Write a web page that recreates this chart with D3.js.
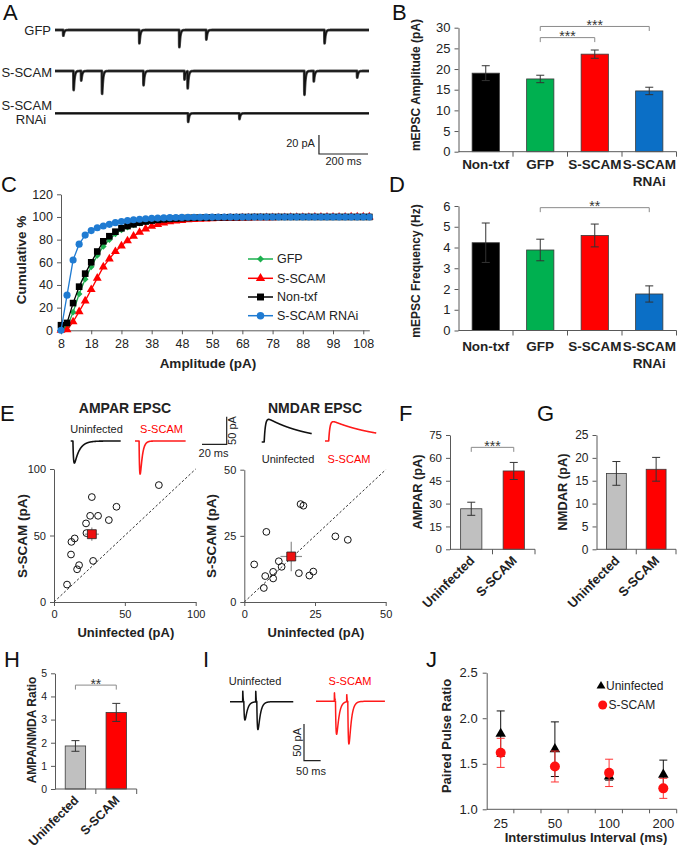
<!DOCTYPE html>
<html><head><meta charset="utf-8">
<script src="https://cdnjs.cloudflare.com/ajax/libs/d3/7.8.5/d3.min.js"></script>
<style>body{margin:0;background:#fff;}svg{display:block;}</style>
</head><body><svg id="fig" width="678" height="852"></svg>
<script>
// ================= DATA =================
// Panel A: mEPSC events [time ms, amplitude pA]
const traceNamesA = ["GFP", "S-SCAM", "S-SCAM RNAi"];
const eventsGFP = [[33,6],[343,14],[506,18],[616,10],[1098,14],[1282,18]];
const eventsSSCAM = [[75,20],[106,10],[191,24],[360,15],[527,9],[540,18],[1016,25],[1054,11],[1231,7]];
const eventsRNAi = [[542,9],[751,6]];

// Panels B, D
const groups = ["Non-txf", "GFP", "S-SCAM", "S-SCAM RNAi"];
const groupColors = ["#000000", "#00b050", "#ff0000", "#0b6fc6"];
const ampMean = [19.0, 17.6, 23.6, 14.7];
const ampSem = [1.8, 0.9, 1.0, 0.9];
const ampTicks = [0, 5, 10, 15, 20, 25, 30];
const freqMean = [4.23, 3.88, 4.58, 1.76];
const freqSem = [0.95, 0.52, 0.55, 0.39];
const freqTicks = [0, 1, 2, 3, 4, 5, 6];

// Panel C: cumulative distributions
const cumBins = [8,10,12,14,16,18,20,22,24,26,28,30,32,34,36,38,40,42,44,46,48,50,52,54,56,58,60,62,64,66,68,70,72,74,76,78,80,82,84,86,88,90,92,94,96,98,100,102,104,106,108,110];
const cumGFP = [0,3,16,32,45,56,66,74,80,85,88.5,91,93,94.5,95.5,96.5,97.2,97.8,98.2,98.6,98.9,99.1,99.3,99.4,99.5,99.6,99.7,99.7,99.8,99.8,99.9,99.9,100,100,100,100,100,100,100,100,100,100,100,100,100,100,100,100,100,100,100,100];
const cumSSCAM = [0,0.5,7.5,16.5,26,36,46,56,63,69.5,74.5,79,83,86.5,89.5,91.8,93.5,94.8,95.8,96.5,97,97.5,97.8,98.1,98.3,98.5,98.7,98.8,98.9,99,99.1,99.2,99.3,99.3,99.4,99.4,99.5,99.5,99.6,99.6,99.7,99.7,99.8,99.8,99.8,99.9,99.9,99.9,100,100,100,100];
const cumNonTxf = [4.5,6.5,24,38.5,50,60,69.5,78.5,83,87,90,92,93.5,95,96,96.8,97.4,97.9,98.3,98.6,98.9,99.1,99.3,99.4,99.5,99.6,99.7,99.7,99.8,99.8,99.9,99.9,100,100,100,100,100,100,100,100,100,100,100,100,100,100,100,100,100,100,100,100];
const cumRNAi = [0,31,62,76,84,88,90.5,92,93.5,95,96,96.8,97.5,98,98.4,98.8,99,99.2,99.4,99.5,99.6,99.7,99.8,99.8,99.9,99.9,100,100,100,100,100,100,100,100,100,100,100,100,100,100,100,100,100,100,100,100,100,100,100,100,100,100];
const cumTicksX = [8, 18, 28, 38, 48, 58, 68, 78, 88, 98, 108];
const cumTicksY = [0, 20, 40, 60, 80, 100, 120];
const cumNames = ["GFP", "S-SCAM", "Non-txf", "S-SCAM RNAi"];

// Panel E: scatter (uninfected vs S-SCAM, pA)
const ampaUninf = [9.2,12.0,12.3,14.6,16.3,17.7,22.9,22.6,25.5,26.7,31.1,27.6,38.7,44.1,74.0];
const ampaSSCAM = [13.1,35.7,45.2,47.8,24.6,27.7,51.8,59.1,64.8,78.9,64.8,30.9,61.6,71.6,87.9];
const ampaMeanXY = [26.7, 51.0], ampaSemXY = [5.0, 5.0];
const nmdaUninf = [3.5,6.9,7.4,7.8,10.2,10.2,12.2,13.2,19.3,23.0,24.4,19.9,20.9,32.2,36.6];
const nmdaSSCAM = [14.2,5.3,9.8,26.5,11.4,8.9,15.4,13.3,10.9,10.0,11.5,37.0,36.4,24.8,23.5];
const nmdaMeanXY = [16.6, 17.2], nmdaSemXY = [3.8, 5.6];
const ampaScatterTicks = [0, 50, 100];
const nmdaScatterTicks = [0, 25, 50];

// Panels F, G, H
const conds = ["Uninfected", "S-SCAM"];
const condColors = ["#c0c0c0", "#ff0000"];
const ampaBarMean = [26.6, 51.4], ampaBarSem = [4.3, 5.6];
const ampaBarTicks = [0, 15, 30, 45, 60, 75];
const nmdaBarMean = [16.6, 17.5], nmdaBarSem = [2.6, 2.6];
const nmdaBarTicks = [0, 5, 10, 15, 20, 25];
const ratioMean = [1.86, 3.31], ratioSem = [0.23, 0.39];
const ratioTicks = [0, 1, 2, 3, 4, 5];

// Panel J
const isi = ["25", "50", "100", "200"];
const pprUninf = [1.83, 1.66, 1.36, 1.38], pprUninfErr = [0.25, 0.30, 0.04, 0.16];
const pprSSCAM = [1.62, 1.47, 1.40, 1.23], pprSSCAMErr = [0.16, 0.17, 0.15, 0.11];
const pprTicks = [1.0, 1.5, 2.0, 2.5];

// ================= DRAWING =================
const FONT = '"Liberation Sans", Arial, Helvetica, sans-serif';
const AXC = "#595959", TXC = "#222";
const svg = d3.select("#fig");
svg.append("rect").attr("width", 678).attr("height", 852).attr("fill", "#fff");

function txt(x, y, s, o = {}) {
  const t = svg.append("text").text(s)
    .attr("font-family", FONT).attr("font-size", o.size || 13)
    .attr("fill", o.fill || TXC).attr("text-anchor", o.anchor || "start");
  if (o.bold) t.attr("font-weight", "bold");
  if (o.rot !== undefined) t.attr("transform", `translate(${x},${y}) rotate(${o.rot})`);
  else t.attr("x", x).attr("y", y);
  if (o.dy) t.attr("dy", o.dy);
  return t;
}
function styleAxis(sel, size) {
  sel.attr("font-family", FONT).attr("font-size", size);
  sel.select(".domain").attr("stroke", AXC);
  sel.selectAll(".tick line").attr("stroke", AXC);
  sel.selectAll(".tick text").attr("fill", TXC);
}
function line(x1, y1, x2, y2, c = AXC, w = 1) {
  return svg.append("line").attr("x1", x1).attr("y1", y1).attr("x2", x2).attr("y2", y2)
    .attr("stroke", c).attr("stroke-width", w);
}

// panel letters
[["A",3,20],["B",392,20],["C",1,192],["D",389,192],["E",0,421],["F",399,421],["G",537,421],["H",4,667],["I",203,667],["J",426,667]]
  .forEach(([s, x, y]) => txt(x, y, s, { size: 22, fill: "#111" }));

// ---------- trace helpers ----------
function kernelNorm(tr, td) { const tp = tr * td / (td - tr) * Math.log(td / tr); return Math.exp(-tp / td) - Math.exp(-tp / tr); }
function buildTrace(dur, dt, events, tr, td) {
  const n = kernelNorm(tr, td), pts = [];
  for (let t = 0; t <= dur + 1e-9; t += dt) {
    let v = 0;
    for (const [t0, a] of events) { const s = t - t0; if (s > 0) v += a * (Math.exp(-s / td) - Math.exp(-s / tr)) / n; }
    pts.push([t, v]);
  }
  return pts;
}
function sumTraces(a, b) { return a.map((p, i) => [p[0], p[1] + b[i][1]]); }
function drawTrace(pts, xs, ys, color, w) {
  svg.append("path").datum(pts).attr("fill", "none").attr("stroke", color).attr("stroke-width", w)
    .attr("stroke-linejoin", "round")
    .attr("d", d3.line().x(d => xs(d[0])).y(d => ys(d[1])));
}

// ---------- Panel A ----------
(function () {
  const xA = d3.scaleLinear().domain([0, 1280]).range([55, 369]);
  const bases = [30, 71, 113.3];
  const evs = [eventsGFP, eventsSSCAM, eventsRNAi];
  evs.forEach((ev, i) => {
    const yA = d3.scaleLinear().domain([0, -1]).range([bases[i], bases[i] + 0.95]);
    const pts = buildTrace(1280, 0.5, ev.map(e => [e[0], -e[1]]), 0.4, 3.5);
    drawTrace(pts, xA, yA, "#555", 2.8);
    drawTrace(pts, xA, yA, "#111", 1.4);
  });
  txt(51, 35, traceNamesA[0], { anchor: "end", size: 13 });
  txt(52, 76.5, traceNamesA[1], { anchor: "end", size: 13 });
  const rn = traceNamesA[2].split(" ");
  txt(52, 110, rn[0], { anchor: "end", size: 13 });
  txt(31, 123.5, rn[1], { anchor: "middle", size: 13 });
  // scale bar 20 pA / 200 ms
  const sx0 = xA(1076), sx1 = xA(1276), sy1 = 154, sy0 = 154 - 20 * 0.95;
  svg.append("path").attr("d", `M${sx0},${sy0}V${sy1}H${sx1}`).attr("fill", "none").attr("stroke", "#222").attr("stroke-width", 1.2);
  txt(sx0 - 4, 147, "20 pA", { anchor: "end", size: 11 });
  txt((sx0 + sx1) / 2, 165, "200 ms", { anchor: "middle", size: 11 });
})();

// ---------- bar panel helper ----------
function barPanel(p) {
  const x = d3.scaleBand().domain(p.cats).range([p.x0, p.x1]).paddingInner(0.5).paddingOuter(0.25);
  const y = d3.scaleLinear().domain([p.ticks[0], p.ticks[p.ticks.length - 1]]).range([p.yBot, p.yTop]);
  const g = svg.append("g");
  g.selectAll("rect").data(p.cats).join("rect")
    .attr("x", d => x(d)).attr("y", (d, i) => y(p.vals[i]))
    .attr("width", x.bandwidth()).attr("height", (d, i) => y(0) - y(p.vals[i]))
    .attr("fill", (d, i) => p.colors[i]).attr("stroke", "#3a3a3a").attr("stroke-width", 0.8);
  p.cats.forEach((c, i) => {
    const cx = x(c) + x.bandwidth() / 2, t = y(p.vals[i] + p.errs[i]), b = y(p.vals[i] - p.errs[i]);
    const ec = "#333";
    line(cx, t, cx, b, ec, 1); line(cx - 4, t, cx + 4, t, ec, 1); line(cx - 4, b, cx + 4, b, ec, 1);
  });
  const ya = svg.append("g").attr("transform", `translate(${p.x0},0)`)
    .call(d3.axisLeft(y).tickValues(p.ticks).tickSize(4).tickSizeOuter(0).tickPadding(4).tickFormat(p.fmt || d3.format("d")));
  styleAxis(ya, p.tickSize || 13);
  line(p.x0, y(0), p.x1, y(0));
  p.cats.forEach(c => { const bx = x(c) + x.bandwidth() / 2 + x.step() / 2; line(bx, y(0), bx, y(0) + 5); });
  const cx = c => x(c) + x.bandwidth() / 2;
  if (p.rotLabels) {
    p.cats.forEach(c => txt(cx(c) + 4, y(0) + 12, c, { rot: -45, anchor: "end", bold: true, size: p.labelSize || 13 }));
  } else {
    p.cats.forEach(c => c.split(" ").forEach((s, k) => txt(cx(c), p.labelY + k * p.labelLH, s, { anchor: "middle", bold: true, size: p.labelSize || 13.5 })));
  }
  txt(p.ylx, p.yly, p.ylabel, { rot: -90, anchor: "middle", bold: true, size: p.ylabelSize || 12.5, dy: "0.35em" });
  (p.brackets || []).forEach(br => {
    const x1 = cx(p.cats[br[0]]), x2 = cx(p.cats[br[1]]), yy = y(br[2]);
    svg.append("path").attr("d", `M${x1},${yy + 4.5}V${yy}H${x2}V${yy + 4.5}`).attr("fill", "none").attr("stroke", "#8a8a8a").attr("stroke-width", 1);
    txt((x1 + x2) / 2, yy + 3.7, br[3], { anchor: "middle", size: 14, fill: "#333" });
  });
  return { x, y };
}

// Panel B
barPanel({ cats: groups, vals: ampMean, errs: ampSem, colors: groupColors, ticks: ampTicks,
  x0: 458.5, x1: 676.5, yTop: 27.7, yBot: 151.7, labelY: 169, labelLH: 17,
  ylabel: "mEPSC Amplitude (pA)", ylx: 416, yly: 85, ylabelSize: 12,
  brackets: [[1, 2, 27.6, "***"], [1, 3, 30.3, "***"]] });
// Panel D
barPanel({ cats: groups, vals: freqMean, errs: freqSem, colors: groupColors, ticks: freqTicks,
  x0: 458.5, x1: 676.5, yTop: 206, yBot: 330.5, labelY: 351, labelLH: 16.5,
  ylabel: "mEPSC Frequency (Hz)", ylx: 416, yly: 271, ylabelSize: 12,
  brackets: [[1, 3, 5.92, "**"]] });
// Panel F
barPanel({ cats: conds, vals: ampaBarMean, errs: ampaBarSem, colors: condColors, ticks: ampaBarTicks,
  x0: 450, x1: 535, yTop: 435, yBot: 549.3, rotLabels: true, tickSize: 11.5,
  ylabel: "AMPAR (pA)", ylx: 418, yly: 492, ylabelSize: 12.8,
  brackets: [[0, 1, 66.9, "***"]] });
// Panel G
barPanel({ cats: conds, vals: nmdaBarMean, errs: nmdaBarSem, colors: condColors, ticks: nmdaBarTicks,
  x0: 596.5, x1: 676, yTop: 435, yBot: 549.3, rotLabels: true, tickSize: 12,
  ylabel: "NMDAR (pA)", ylx: 563, yly: 492, ylabelSize: 12.8 });
// Panel H
barPanel({ cats: conds, vals: ratioMean, errs: ratioSem, colors: condColors, ticks: ratioTicks,
  x0: 55, x1: 136.7, yTop: 673.3, yBot: 789, rotLabels: true, tickSize: 10.5, labelSize: 12.5,
  ylabel: "AMPA/NMDA Ratio", ylx: 31.5, yly: 730, ylabelSize: 12,
  brackets: [[0, 1, 4.49, "**"]] });

// ---------- Panel C ----------
(function () {
  const xC = d3.scaleLinear().domain([8, 110]).range([61, 369.3]);
  const yC = d3.scaleLinear().domain([0, 120]).range([330.3, 194.3]);
  const gx = svg.append("g").attr("transform", `translate(0,${yC(0)})`)
    .call(d3.axisBottom(xC).tickValues(cumTicksX).tickSize(4).tickSizeOuter(0).tickPadding(5));
  styleAxis(gx, 12.5);
  const gy = svg.append("g").attr("transform", `translate(${xC(8)},0)`)
    .call(d3.axisLeft(yC).tickValues(cumTicksY).tickSize(4).tickSizeOuter(0).tickPadding(4));
  styleAxis(gy, 12.5);
  const series = [cumGFP, cumSSCAM, cumNonTxf, cumRNAi];
  const colors = ["#1db04f", "#ff0000", "#000000", "#1f7bd2"];
  const syms = [
    { type: d3.symbolSquare, size: 22, rot: 45 },
    { type: d3.symbolTriangle, size: 34, rot: 0 },
    { type: d3.symbolSquare, size: 44, rot: 0 },
    { type: d3.symbolCircle, size: 40, rot: 0 }];
  series.forEach((vals, si) => {
    svg.append("path").datum(vals).attr("fill", "none").attr("stroke", colors[si]).attr("stroke-width", 1.3)
      .attr("d", d3.line().x((d, i) => xC(cumBins[i])).y(d => yC(d)));
    svg.append("g").selectAll("path").data(vals).join("path")
      .attr("d", d3.symbol().type(syms[si].type).size(syms[si].size))
      .attr("transform", (d, i) => `translate(${xC(cumBins[i])},${yC(d)}) rotate(${syms[si].rot})`)
      .attr("fill", colors[si]);
  });
  const ly = [259, 278.3, 297, 315.7];
  cumNames.forEach((n, si) => {
    line(248, ly[si], 273, ly[si], colors[si], 1.5);
    svg.append("path").attr("d", d3.symbol().type(syms[si].type).size(syms[si].size * 1.1)())
      .attr("transform", `translate(260.5,${ly[si]}) rotate(${syms[si].rot})`).attr("fill", colors[si]);
    txt(277, ly[si], n, { size: 12.5, dy: "0.35em" });
  });
  txt(21.5, 260, "Cumulative %", { rot: -90, anchor: "middle", bold: true, size: 13.5, dy: "0.35em" });
  txt(208, 368, "Amplitude (pA)", { anchor: "middle", bold: true, size: 13.5 });
})();

// ---------- Panel E ----------
function scatterPanel(p) {
  const x = d3.scaleLinear().domain([0, p.max]).range([p.x0, p.x1]);
  const y = d3.scaleLinear().domain([0, p.max]).range([p.y0, p.y1]);
  const gx = svg.append("g").attr("transform", `translate(0,${p.y0})`)
    .call(d3.axisBottom(x).tickValues(p.ticks).tickSize(4).tickSizeOuter(0).tickPadding(4));
  styleAxis(gx, 11);
  const gy = svg.append("g").attr("transform", `translate(${p.x0},0)`)
    .call(d3.axisLeft(y).tickValues(p.ticks).tickSize(4).tickSizeOuter(0).tickPadding(4));
  styleAxis(gy, 11);
  line(x(0), y(0), x(p.max), y(p.max), "#333", 1).attr("stroke-dasharray", "2.5,2");
  svg.append("g").selectAll("circle").data(p.xs).join("circle")
    .attr("cx", d => x(d)).attr("cy", (d, i) => y(p.ys[i])).attr("r", 3.4)
    .attr("fill", "none").attr("stroke", "#111").attr("stroke-width", 1);
  const mx = x(p.mean[0]), my = y(p.mean[1]);
  line(x(p.mean[0] - p.sem[0]), my, x(p.mean[0] + p.sem[0]), my, "#8c8c8c", 1.2);
  line(mx, y(p.mean[1] - p.sem[1]), mx, y(p.mean[1] + p.sem[1]), "#8c8c8c", 1.2);
  svg.append("path").attr("d", d3.symbol().type(d3.symbolSquare).size(80)())
    .attr("transform", `translate(${mx},${my})`).attr("fill", "#ee1111").attr("stroke", "#222").attr("stroke-width", 0.8);
  txt(p.ylx, 536, "S-SCAM (pA)", { rot: -90, anchor: "middle", bold: true, size: 13.5, dy: "0.35em" });
  txt((p.x0 + p.x1) / 2 + 1, 637, "Uninfected (pA)", { anchor: "middle", bold: true, size: 13 });
}
scatterPanel({ xs: ampaUninf, ys: ampaSSCAM, mean: ampaMeanXY, sem: ampaSemXY, max: 100, ticks: ampaScatterTicks,
  x0: 54, x1: 195.7, y0: 602, y1: 469, ylx: 22.5 });
scatterPanel({ xs: nmdaUninf, ys: nmdaSSCAM, mean: nmdaMeanXY, sem: nmdaSemXY, max: 50, ticks: nmdaScatterTicks,
  x0: 244.3, x1: 385.7, y0: 602, y1: 469.7, ylx: 211 });

// E titles & example traces
txt(125, 413, "AMPAR EPSC", { anchor: "middle", bold: true, size: 14 });
txt(315, 413, "NMDAR EPSC", { anchor: "middle", bold: true, size: 14 });
(function () {
  const pxMs = 1.235, pxPa = 0.552;
  const ex = [
    { x0: 70.7, base: 441, dur: 40.5, ev: [[1.8, -40]], tr: 0.5, td: 4.0, c: "#111" },
    { x0: 135, base: 441, dur: 41, ev: [[3.3, -60]], tr: 0.5, td: 1.6, c: "#ff1a1a" },
    { x0: 261.7, base: 442, dur: 40.5, ev: [[2.0, 41]], tr: 1.0, td: 34, c: "#111" },
    { x0: 325, base: 441, dur: 41.5, ev: [[3.0, 35]], tr: 1.0, td: 38, c: "#ff1a1a" }];
  ex.forEach(e => {
    const xs = d3.scaleLinear().domain([0, 1]).range([e.x0, e.x0 + pxMs]);
    const ys = d3.scaleLinear().domain([0, 1]).range([e.base, e.base - pxPa]);
    drawTrace(buildTrace(e.dur, 0.1, e.ev, e.tr, e.td), xs, ys, e.c, 1.6);
  });
  txt(96.5, 433, "Uninfected", { anchor: "middle", size: 11 });
  txt(161.5, 433, "S-SCAM", { anchor: "middle", size: 11, fill: "#ff0000" });
  txt(288, 463, "Uninfected", { anchor: "middle", size: 11 });
  txt(349, 463, "S-SCAM", { anchor: "middle", size: 11, fill: "#ff0000" });
  const vx = 226.7, by = 444.3;
  svg.append("path").attr("d", `M${vx},${by - 50 * pxPa}V${by}H${vx - 20 * pxMs}`).attr("fill", "none").attr("stroke", "#222").attr("stroke-width", 1.2);
  txt(213.5, 456.5, "20 ms", { anchor: "middle", size: 11 });
  txt(236, by - 25 * pxPa, "50 pA", { rot: -90, anchor: "middle", size: 11 });
})();

// ---------- Panel I ----------
(function () {
  const pxMs = 0.333, pxPa = 0.733;
  const ex = [
    { x0: 230, base: 701.7, dur: 190, stim: [[38, 15], [77, 15]], ev: [[41.5, -25], [80.5, -38]], c: "#111" },
    { x0: 316, base: 701.3, dur: 207, stim: [[55, 12], [92, 10]], ev: [[58.5, -45], [95.5, -58]], c: "#ff1a1a" }];
  ex.forEach(e => {
    const xs = d3.scaleLinear().domain([0, 1]).range([e.x0, e.x0 + pxMs]);
    const ys = d3.scaleLinear().domain([0, 1]).range([e.base, e.base - pxPa]);
    const a = buildTrace(e.dur, 0.25, e.ev, 2.0, 6.5);
    const s = buildTrace(e.dur, 0.25, e.stim, 0.2, 0.8);
    drawTrace(sumTraces(a, s), xs, ys, e.c, 1.5);
  });
  txt(255, 685, "Uninfected", { anchor: "middle", size: 11 });
  txt(350, 685, "S-SCAM", { anchor: "middle", size: 11, fill: "#ff0000" });
  const vx = 304, by = 760.7;
  svg.append("path").attr("d", `M${vx},${by - 50 * pxPa}V${by}H${vx + 50 * pxMs}`).attr("fill", "none").attr("stroke", "#222").attr("stroke-width", 1.2);
  txt(311, 775, "50 ms", { anchor: "middle", size: 11 });
  txt(301, by - 25 * pxPa, "50 pA", { rot: -90, anchor: "middle", size: 11 });
})();

// ---------- Panel J ----------
(function () {
  const yJ = d3.scaleLinear().domain([1, 2.5]).range([809.3, 672.7]);
  const xJ = d3.scalePoint().domain(isi).range([500.7, 663.3]);
  const xT = d3.scaleLinear().domain([0, 7]).range([486.7, 676.7]);
  const gy = svg.append("g").attr("transform", `translate(486.7,0)`)
    .call(d3.axisLeft(yJ).tickValues(pprTicks).tickSize(4).tickSizeOuter(0).tickPadding(5).tickFormat(d3.format(".1f")));
  styleAxis(gy, 13);
  line(486.7, yJ(1), 676.7, yJ(1));
  [1, 2, 3, 4, 5, 6, 7].forEach(k => line(xT(k), yJ(1), xT(k), yJ(1) + 4));
  isi.forEach(d => txt(xJ(d), 828, d, { anchor: "middle", size: 13 }));
  function errs(vals, es, c) {
    isi.forEach((d, i) => {
      const cx = xJ(d), t = yJ(vals[i] + es[i]), b = yJ(vals[i] - es[i]);
      line(cx, t, cx, b, c, 1); line(cx - 4, t, cx + 4, t, c, 1); line(cx - 4, b, cx + 4, b, c, 1);
    });
  }
  errs(pprUninf, pprUninfErr, "#111");
  svg.append("g").selectAll("path").data(pprUninf).join("path")
    .attr("d", d3.symbol().type(d3.symbolTriangle).size(48))
    .attr("transform", (d, i) => `translate(${xJ(isi[i])},${yJ(d)})`).attr("fill", "#000");
  errs(pprSSCAM, pprSSCAMErr, "#ff3333");
  svg.append("g").selectAll("circle").data(pprSSCAM).join("circle")
    .attr("cx", (d, i) => xJ(isi[i])).attr("cy", d => yJ(d)).attr("r", 5).attr("fill", "#ff1010");
  // legend
  svg.append("path").attr("d", d3.symbol().type(d3.symbolTriangle).size(34)()).attr("transform", "translate(601,686)").attr("fill", "#000");
  txt(606, 686, conds[0], { size: 12, dy: "0.35em" });
  svg.append("circle").attr("cx", 602.7).attr("cy", 705).attr("r", 4.5).attr("fill", "#ff1010");
  txt(608.5, 705, conds[1], { size: 12, dy: "0.35em" });
  txt(446, 736, "Paired Pulse Ratio", { rot: -90, anchor: "middle", bold: true, size: 13, dy: "0.35em" });
  txt(586, 842, "Interstimulus Interval (ms)", { anchor: "middle", bold: true, size: 13 });
})();
</script></body></html>
